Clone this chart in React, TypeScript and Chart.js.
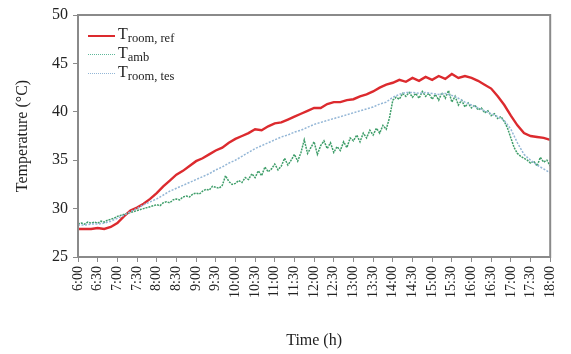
import React, { useEffect, useRef } from "react";
import { Chart, registerables } from "chart.js";

Chart.register(...registerables);

// Time axis: hours from 6 to 18
const START_HOUR = 6;
const END_HOUR = 18;
const tickLabels = [
  "6:00", "6:30", "7:00", "7:30", "8:00", "8:30", "9:00", "9:30", "10:00", "10:30",
  "11:00", "11:30", "12:00", "12:30", "13:00", "13:30", "14:00", "14:30", "15:00",
  "15:30", "16:00", "16:30", "17:00", "17:30", "18:00",
];

// T_room,ref every 10 minutes, 6:00 .. 18:00
const roomRef = [
  27.9, 27.9, 27.9, 28.0, 27.9, 28.1,
  28.5, 29.2, 29.8, 30.1, 30.5, 31.0,
  31.6, 32.3, 32.9, 33.5, 33.9, 34.4,
  34.9, 35.2, 35.6, 36.0, 36.3, 36.8,
  37.2, 37.5, 37.8, 38.2, 38.1, 38.5,
  38.8, 38.9, 39.2, 39.5, 39.8, 40.1,
  40.4, 40.4, 40.8, 41.0, 41.0, 41.2,
  41.3, 41.6, 41.8, 42.1, 42.5, 42.8,
  43.0, 43.3, 43.1, 43.5, 43.2, 43.6,
  43.3, 43.7, 43.4, 43.9, 43.5, 43.7,
  43.5, 43.2, 42.8, 42.4, 41.6, 40.7,
  39.6, 38.6, 37.8, 37.5, 37.4, 37.3,
  37.1,
];

// T_room,tes every 10 minutes, 6:00 .. 18:00
const roomTes = [
  28.3, 28.3, 28.4, 28.4, 28.5, 28.7,
  29.0, 29.3, 29.7, 30.0, 30.4, 30.7,
  31.0, 31.4, 31.8, 32.1, 32.4, 32.7,
  33.0, 33.3, 33.6, 34.0, 34.3, 34.7,
  35.0, 35.4, 35.8, 36.2, 36.5, 36.8,
  37.1, 37.4, 37.6, 37.9, 38.1, 38.4,
  38.7, 38.9, 39.1, 39.3, 39.5, 39.7,
  39.9, 40.1, 40.3, 40.5, 40.8, 41.0,
  41.5, 41.8, 42.0, 42.0, 41.9, 42.0,
  41.9, 41.8, 41.9, 41.7, 41.4, 41.0,
  40.7, 40.4, 40.1, 39.8, 39.5, 39.1,
  38.2, 36.8, 35.6, 35.0, 34.5, 34.1,
  33.7,
];

// T_amb every 5 minutes, 6:00 .. 18:00
const ambient = [
  28.4, 28.5, 28.4, 28.6, 28.5, 28.6, 28.5, 28.7, 28.6, 28.8, 28.9, 29.0,
  29.2, 29.3, 29.4, 29.5, 29.6, 29.7, 29.8, 29.9, 30.0, 30.1, 30.2, 30.3,
  30.4, 30.3, 30.6, 30.7, 30.6, 30.9, 31.0, 30.9, 31.2, 31.3, 31.2, 31.5,
  31.6, 31.5, 31.8, 32.0, 31.9, 32.3, 32.2, 32.1, 32.4, 33.4, 32.8, 32.5,
  32.6, 32.9, 32.7, 33.2, 33.0, 33.6, 33.2, 33.9, 33.4, 34.3, 33.8, 34.1,
  34.6, 34.0, 34.4, 35.2, 34.5, 35.0, 35.6, 34.9, 35.8, 37.1, 35.7, 36.3,
  36.9, 35.6, 36.5, 37.0, 36.2, 36.8, 35.8, 36.4, 36.0, 36.9, 36.3, 37.3,
  37.0, 37.6, 36.9, 37.8, 37.3, 38.1, 37.6, 38.3, 37.8, 38.6, 38.2, 39.4,
  41.2, 41.5, 41.3, 41.9, 41.6, 42.0, 41.5, 41.9, 41.4, 42.1, 41.6, 41.9,
  41.3, 41.8, 41.2, 42.0, 41.4, 42.2, 41.0, 41.6, 40.7, 41.2, 40.5, 40.9,
  40.4, 40.7, 40.2, 40.4, 39.9, 40.1, 39.6, 39.8, 39.3, 39.5, 39.0, 38.3,
  37.3, 36.3, 35.7, 35.4, 35.2, 35.0, 34.7, 34.9, 34.4, 35.3, 34.8, 35.0,
  34.4,
];

const toPoints = (vals: number[], stepMin: number) =>
  vals.map((v, i) => ({ x: START_HOUR + (i * stepMin) / 60, y: v }));

const FONT = "'Liberation Serif', 'Times New Roman', serif";

const framePlugin = {
  id: "frame",
  afterDraw(chart: any) {
    const { ctx, chartArea } = chart;
    ctx.save();
    ctx.strokeStyle = "#8a8a8a";
    ctx.lineWidth = 2;
    ctx.strokeRect(chartArea.left, chartArea.top, chartArea.right - chartArea.left, chartArea.bottom - chartArea.top);
    ctx.restore();
  },
};

export default function App() {
  const ref = useRef<HTMLCanvasElement>(null);

  useEffect(() => {
    if (!ref.current) return;
    const chart = new Chart(ref.current, {
      type: "line",
      data: {
        datasets: [
          {
            label: "T room, tes",
            data: toPoints(roomTes, 10),
            borderColor: "#93b6d6",
            borderWidth: 1.5,
            borderDash: [2, 1.5],
            pointRadius: 0,
            tension: 0,
          },
          {
            label: "T amb",
            data: toPoints(ambient, 5),
            borderColor: "#3f9e6a",
            borderWidth: 1.5,
            borderDash: [2, 1],
            pointRadius: 0,
            tension: 0,
          },
          {
            label: "T room, ref",
            data: toPoints(roomRef, 10),
            borderColor: "#dc2a2e",
            borderWidth: 2.4,
            pointRadius: 0,
            tension: 0,
          },
        ],
      },
      options: {
        responsive: false,
        animation: false,
        layout: { padding: { top: 15, right: 9, left: 0, bottom: 0 } },
        plugins: { legend: { display: false }, tooltip: { enabled: false } },
        scales: {
          x: {
            type: "linear",
            min: START_HOUR,
            max: END_HOUR,
            afterFit: (s: any) => { s.height = 97; },
            afterBuildTicks: (s: any) => {
              s.ticks = tickLabels.map((_, i) => ({ value: START_HOUR + i * 0.5 }));
            },
            ticks: {
              autoSkip: false,
              minRotation: 90,
              maxRotation: 90,
              padding: 4,
              color: "#222",
              font: { family: FONT, size: 14 },
              callback: (_v: any, i: number) => tickLabels[i],
            },
            grid: { drawOnChartArea: false, drawTicks: true, tickLength: 5, color: "#8a8a8a", lineWidth: 1 },
            border: { display: false },
            title: { display: true, text: "Time (h)", color: "#222", font: { family: FONT, size: 16 }, padding: { top: 4, bottom: 4 } },
          },
          y: {
            min: 25,
            max: 50,
            afterFit: (s: any) => { s.width = 78; },
            ticks: { stepSize: 5, padding: 5, color: "#222", font: { family: FONT, size: 16 } },
            grid: { drawOnChartArea: false, drawTicks: true, tickLength: 5, color: "#8a8a8a", lineWidth: 1 },
            border: { display: false },
            title: { display: true, text: "Temperature (°C)", color: "#222", font: { family: FONT, size: 16 }, padding: { top: 13, bottom: 4 } },
          },
        },
      },
      plugins: [framePlugin],
    });
    return () => chart.destroy();
  }, []);

  const legendRow = (color: string, style: string, width: number, main: string, sub: string) => (
    <div style={{ display: "flex", alignItems: "center", height: 19 }}>
      <div style={{ width: 27, height: 0, borderTop: `${width}px ${style} ${color}`, marginRight: 3 }} />
      <span style={{ fontFamily: FONT, fontSize: 16, color: "#222", lineHeight: "19px" }}>
        {main}
        <sub style={{ fontSize: 12.5, verticalAlign: "-3px" }}>{sub}</sub>
      </span>
    </div>
  );

  return (
    <div style={{ position: "fixed", left: 0, top: 0, width: 571, height: 354, background: "#fff" }}>
      <canvas ref={ref} width={571} height={354} />
      <div style={{ position: "absolute", left: 88, top: 26 }}>
        {legendRow("#dc2a2e", "solid", 2, "T", "room, ref")}
        {legendRow("#5fb89a", "dotted", 1, "T", "amb")}
        {legendRow("#93b6d6", "dotted", 1, "T", "room, tes")}
      </div>
    </div>
  );
}
